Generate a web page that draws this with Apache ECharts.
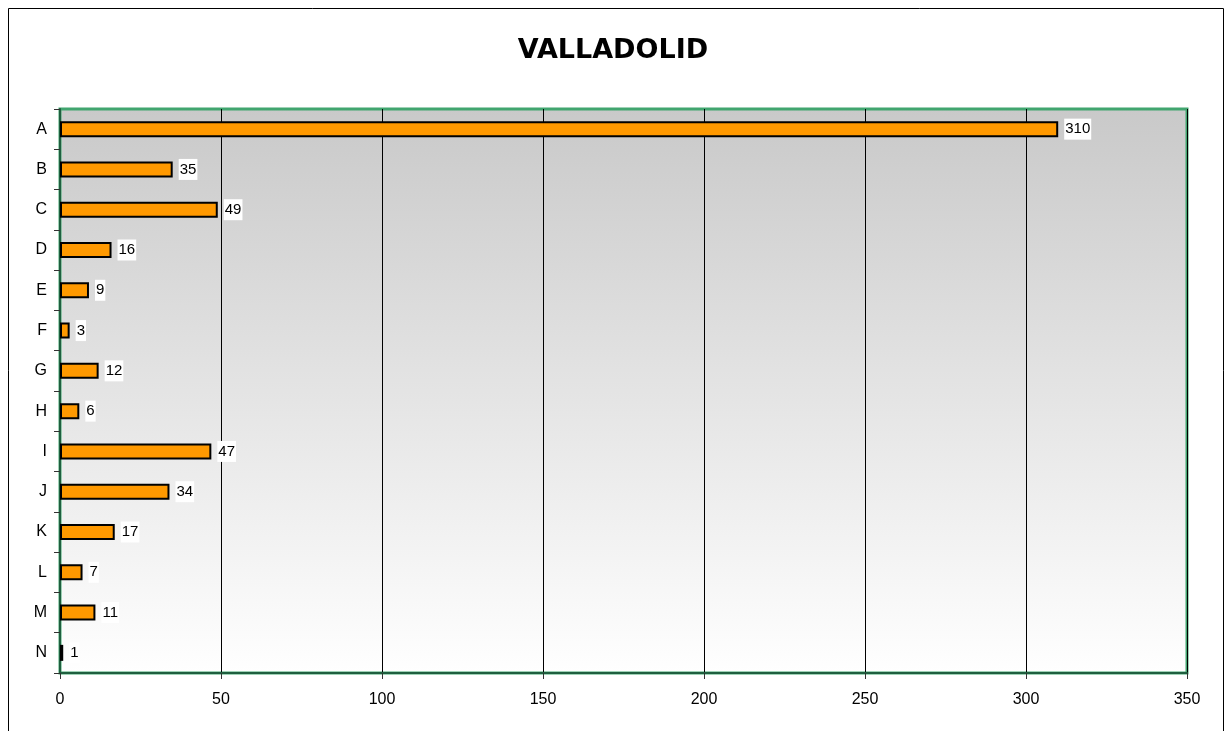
<!DOCTYPE html>
<html>
<head>
<meta charset="utf-8">
<script src="https://cdn.jsdelivr.net/npm/echarts@6/dist/echarts.min.js"></script>
<style>
  html, body { margin: 0; padding: 0; background: #fff; }
  #chart { width: 1226px; height: 731px; }
</style>
</head>
<body>
<div id="chart"></div>
<script>
const categories = ['A', 'B', 'C', 'D', 'E', 'F', 'G', 'H', 'I', 'J', 'K', 'L', 'M', 'N'];
const values = [310, 35, 49, 16, 9, 3, 12, 6, 47, 34, 17, 7, 11, 1];
const xTicks = { min: 0, max: 350, interval: 50 };

let myChart = echarts.init(document.getElementById('chart'));
let option = {
  animation: false,
  title: {
    text: 'VALLADOLID',
    left: 'center',
    top: 32,
    textStyle: {
      fontFamily: 'DejaVu Sans',
      fontWeight: 'bold',
      fontSize: 27,
      color: '#000',
    },
  },
  graphic: [
    {
      type: 'rect',
      shape: { x: 8.5, y: 8.5, width: 1215, height: 760 },
      style: { fill: 'none', stroke: '#000', lineWidth: 1 },
      silent: true,
    },
  ],
  grid: {
    left: 60,
    right: 39,
    top: 109,
    bottom: 58,
    show: true,
    borderColor: '#41a56f',
    borderWidth: 3,
    backgroundColor: new echarts.graphic.LinearGradient(0, 0, 0, 1, [
      { offset: 0, color: '#c9c9c9' },
      { offset: 1, color: '#ffffff' },
    ]),
  },
  xAxis: {
    type: 'value',
    min: xTicks.min,
    max: xTicks.max,
    interval: xTicks.interval,
    axisLine: { show: true, lineStyle: { color: '#1f5f3f', width: 2 } },
    axisTick: { show: true, length: 6, lineStyle: { color: '#333' } },
    axisLabel: {
      fontFamily: 'Liberation Sans',
      fontSize: 16,
      color: '#000',
      margin: 19,
    },
    splitLine: { show: true, lineStyle: { color: '#000', width: 1 } },
  },
  yAxis: {
    type: 'category',
    data: categories,
    inverse: true,
    axisLine: { show: true, lineStyle: { color: '#1f5f3f', width: 2 } },
    axisTick: { show: true, length: 6, lineStyle: { color: '#333' } },
    axisLabel: {
      fontFamily: 'Liberation Sans',
      fontSize: 16,
      color: '#000',
      margin: 13,
    },
  },
  series: [
    {
      type: 'bar',
      data: values,
      barWidth: 16,
      itemStyle: {
        color: '#ff9900',
        borderColor: '#000',
        borderWidth: 2,
      },
      label: {
        show: true,
        position: 'right',
        distance: 6,
        fontFamily: 'Liberation Sans',
        fontSize: 15,
        color: '#000',
        backgroundColor: '#fff',
        padding: [4, 1, 2, 1],
      },
    },
  ],
};
myChart.setOption(option);
</script>
</body>
</html>
